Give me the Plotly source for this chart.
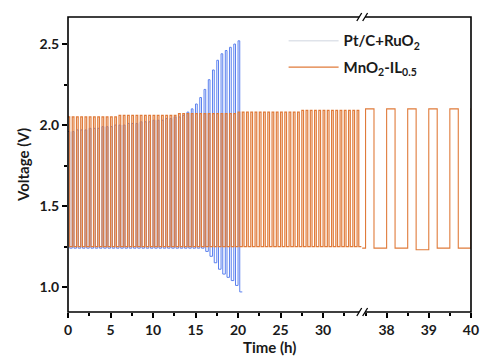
import plotly.graph_objects as go

# ---------------- data ----------------
period_h = 0.5          # one charge/discharge cycle
charge_frac = 0.4       # fraction of a cycle spent on the upper plateau

# MnO2-IL0.5, first panel (0 - 34.5 h), one value per cycle
mno2_top_1 = [2.05]*12 + [2.06]*14 + [2.07]*14 + [2.08]*15 + [2.09]*14
mno2_bot_1 = [1.25]*69
# MnO2-IL0.5, second panel (37 - 40 h)
mno2_start_2 = [37.0, 37.5, 38.0, 38.5, 39.0, 39.5, 40.0]
mno2_top_2 = [2.10, 2.10, 2.10, 2.10, 2.10, 2.10, 2.10]
mno2_bot_2 = [1.24, 1.24, 1.24, 1.23, 1.24, 1.24, 1.24]

# Pt/C+RuO2 (0 - 20.5 h), one value per cycle
ptc_top = [1.96, 1.96, 1.97, 1.97, 1.97, 1.98, 1.98, 1.98, 1.99, 1.99,
           1.99, 2.00, 2.00, 2.00, 2.01, 2.01, 2.01, 2.02, 2.02, 2.02,
           2.03, 2.03, 2.03, 2.04, 2.04, 2.05, 2.05, 2.06, 2.08, 2.10,
           2.13, 2.17, 2.22, 2.28, 2.34, 2.40, 2.44, 2.46, 2.48, 2.50, 2.52]
ptc_bot = [1.24]*32 + [1.22, 1.19, 1.15, 1.11, 1.08, 1.06, 1.04, 1.01, 0.97]

x_ticks_1 = [0, 5, 10, 15, 20, 25, 30]
x_ticks_2 = [38, 39, 40]
y_ticks = [1.0, 1.5, 2.0, 2.5]


def square_wave(starts, tops, bots):
    xs, ys = [], []
    for t, hi, lo in zip(starts, tops, bots):
        tc = t + charge_frac * period_h
        xs += [t, tc, tc, t + period_h]
        ys += [hi, hi, lo, lo]
    return xs, ys


starts_1 = [i * period_h for i in range(len(mno2_top_1))]
starts_p = [i * period_h for i in range(len(ptc_top))]

ox1, oy1 = square_wave(starts_1, mno2_top_1, mno2_bot_1)
ox2, oy2 = square_wave(mno2_start_2, mno2_top_2, mno2_bot_2)
px, py = square_wave(starts_p, ptc_top, ptc_bot)

ORANGE = "#e07b3a"
BLUE = "#5b80ee"
TXT = "#1a1a1a"

fig = go.Figure()
# legend-only entry (the reference's legend swatch is very pale)
fig.add_trace(go.Scatter(x=[None], y=[None], mode="lines",
                         line=dict(color="#dfe3ea", width=1.5),
                         name="Pt/C+RuO<sub>2</sub>", legendrank=1))
fig.add_trace(go.Scatter(x=px, y=py, mode="lines", line=dict(color=BLUE, width=1),
                         showlegend=False, xaxis="x", yaxis="y"))
fig.add_trace(go.Scatter(x=ox1, y=oy1, mode="lines", line=dict(color=ORANGE, width=1.2),
                         name="MnO<sub>2</sub>-IL<sub>0.5</sub>", legendgroup="m",
                         legendrank=2, xaxis="x", yaxis="y"))
fig.add_trace(go.Scatter(x=ox2, y=oy2, mode="lines", line=dict(color=ORANGE, width=1.1),
                         showlegend=False, legendgroup="m", xaxis="x2", yaxis="y"))

split = 0.73
tickfont = dict(family="Lato", size=14, color=TXT, weight="bold")
common_x = dict(showgrid=False, zeroline=False, showline=False, ticks="outside",
                ticklen=5, tickwidth=1.5, tickcolor="black", tickfont=tickfont,
                ticklabeloverflow="allow")
fig.update_layout(
    width=487, height=356,
    margin=dict(l=68, r=8, t=17, b=44),
    paper_bgcolor="white", plot_bgcolor="white",
    font=dict(family="Lato", color=TXT),
    xaxis=dict(domain=[0, split], range=[0, 34.6], tickvals=x_ticks_1,
               minor=dict(ticks="outside", ticklen=3, tickwidth=1.5, dtick=2.5,
                          tick0=0, tickcolor="black"),
               anchor="y", **common_x),
    xaxis2=dict(domain=[split, 1], range=[37.42, 40.002], tickvals=x_ticks_2,
                minor=dict(ticks="outside", ticklen=3, tickwidth=1.5, dtick=0.5,
                           tick0=37.5, tickcolor="black"),
                anchor="y", **common_x),
    yaxis=dict(range=[0.846, 2.667], tickvals=y_ticks, tickformat=".1f",
               showgrid=False, zeroline=False, showline=False, ticks="outside",
               ticklen=5, tickwidth=1.5, tickcolor="black", tickfont=tickfont,
               minor=dict(ticks="outside", ticklen=3, tickwidth=1.5, dtick=0.25,
                          tick0=0, tickcolor="black"),
               title=dict(text="Voltage (V)", standoff=6,
                          font=dict(family="Lato", size=15, weight="bold", color=TXT))),
    legend=dict(x=0.535, y=0.975, xanchor="left", yanchor="top",
                bgcolor="rgba(0,0,0,0)", borderwidth=0, itemwidth=50,
                font=dict(family="Lato", size=15, weight="bold", color=TXT),
                tracegroupgap=4),
    annotations=[dict(text="Time (h)", xref="paper", yref="paper", x=0.5, y=0,
                      yshift=-35, showarrow=False, yanchor="middle",
                      font=dict(family="Lato", size=15, weight="bold", color=TXT))],
)

# frame
shapes = [dict(type="rect", xref="paper", yref="paper", x0=0, x1=1, y0=0, y1=1,
               line=dict(color="black", width=1.6), layer="above")]
# axis break marks "//" on bottom and top
pxu, pyu = 1 / 411, 1 / 295
for yb in (0, 1):
    xb = split
    shapes.append(dict(type="rect", xref="paper", yref="paper",
                       x0=xb - 3 * pxu, x1=xb + 3 * pxu, y0=yb - 2 * pyu, y1=yb + 2 * pyu,
                       line=dict(width=0), fillcolor="white", layer="above"))
    for dx in (-3, 3):
        shapes.append(dict(type="line", xref="paper", yref="paper",
                           x0=xb + (dx - 2.5) * pxu, x1=xb + (dx + 2.5) * pxu,
                           y0=yb - 4 * pyu, y1=yb + 4 * pyu,
                           line=dict(color="black", width=1.3), layer="above"))
fig.update_layout(shapes=shapes)

fig.write_html("out.html")
